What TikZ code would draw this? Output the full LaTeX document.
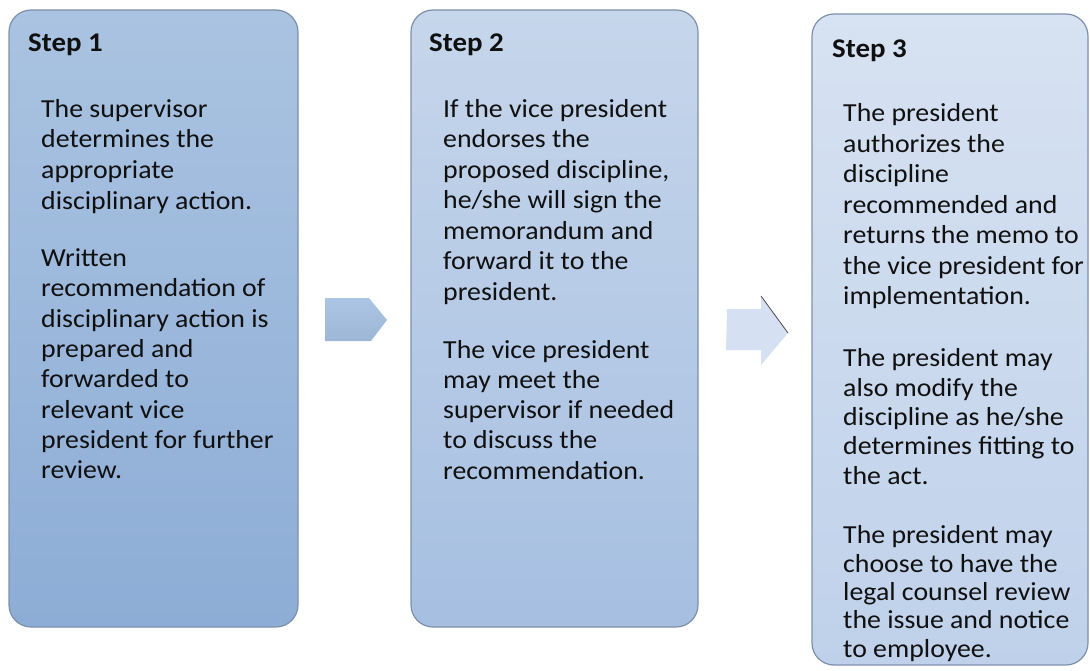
\documentclass[tikz,border=0pt]{standalone}
\usepackage{fontspec}
\setmainfont{Carlito}[FakeStretch=1.07]
\definecolor{boxedge}{HTML}{7D90AA}
\definecolor{aTop}{HTML}{AAC3E1}
\definecolor{aBot}{HTML}{8DADD6}
\definecolor{bTop}{HTML}{C6D6EB}
\definecolor{bBot}{HTML}{A6BFE1}
\definecolor{cTop}{HTML}{D7E2F2}
\definecolor{cBot}{HTML}{BFD1EA}
\definecolor{arrA}{HTML}{A6C0E2}
\definecolor{arrB}{HTML}{D5E1F2}
\definecolor{textc}{HTML}{101010}
\tikzset{
  stepbox/.style={draw=boxedge, line width=1.2pt, rounded corners=22pt, inner sep=0pt},
  heading/.style={anchor=base west, inner sep=0pt, text=textc,
                  font=\fontsize{27}{30}\selectfont\bfseries},
  bodytext/.style={anchor=base west, inner sep=0pt, text=textc,
                   font=\fontsize{26}{#1}\selectfont},
}
\newcommand{\para}[1]{\parbox[t]{300pt}{\raggedright #1}}
\begin{document}
\begin{tikzpicture}[x=1pt,y=-1pt]
\useasboundingbox (0,0) rectangle (1090,671);

% boxes
\node[stepbox, top color=aTop, bottom color=aBot, minimum width=289pt, minimum height=617pt] (b1) at (153.5,318.5) {};
\node[stepbox, top color=bTop, bottom color=bBot, minimum width=287pt, minimum height=617pt] (b2) at (554.5,318.5) {};
\node[stepbox, top color=cTop, bottom color=cBot, minimum width=276pt, minimum height=651pt] (b3) at (950,339.5) {};

% block arrows
\shade[top color=arrA!92!white, bottom color=arrA!95!black] (325,298) -- (369,298) -- (387,320) -- (371,341) -- (325,341) -- cycle;
\fill[arrB] (727,309) -- (761,309) -- (761,296) -- (788,333) -- (761,365) -- (761,350) -- (726,350) -- cycle;
\draw[black!70, line width=0.8pt] (761,296) -- (788,333);

% headings
\node[heading] (h1) at (28,52) {Step 1};
\node[heading] (h2) at (429,52) {Step 2};
\node[heading] (h3) at (832,58) {Step 3};

% step 1
\node[bodytext=30.7] (t1a) at (41,117.3) {\para{The supervisor\\determines the\\appropriate\\disciplinary action.}};
\node[bodytext=30.3] (t1b) at (41,266.7) {\para{Written\\recommendation of\\disciplinary action is\\prepared and\\forwarded to\\relevant vice\\president for further\\review.}};

% step 2
\node[bodytext=30.5] (t2a) at (443,117.3) {\para{If the vice president\\endorses the\\proposed discipline,\\he/she will sign the\\memorandum and\\forward it to the\\president.}};
\node[bodytext=30.3] (t2b) at (443,358) {\para{The vice president\\may meet the\\supervisor if needed\\to discuss the\\recommendation.}};

% step 3
\node[bodytext=30.5] (t3a) at (843,121.7) {\para{The president\\authorizes the\\discipline\\recommended and\\returns the memo to\\the vice president for\\implementation.}};
\node[bodytext=29.4] (t3b) at (843,366.7) {\para{The president may\\also modify the\\discipline as he/she\\determines fitting to\\the act.}};
\node[bodytext=28.3] (t3c) at (843,543.8) {\para{The president may\\choose to have the\\legal counsel review\\the issue and notice\\to employee.}};
\end{tikzpicture}
\end{document}
